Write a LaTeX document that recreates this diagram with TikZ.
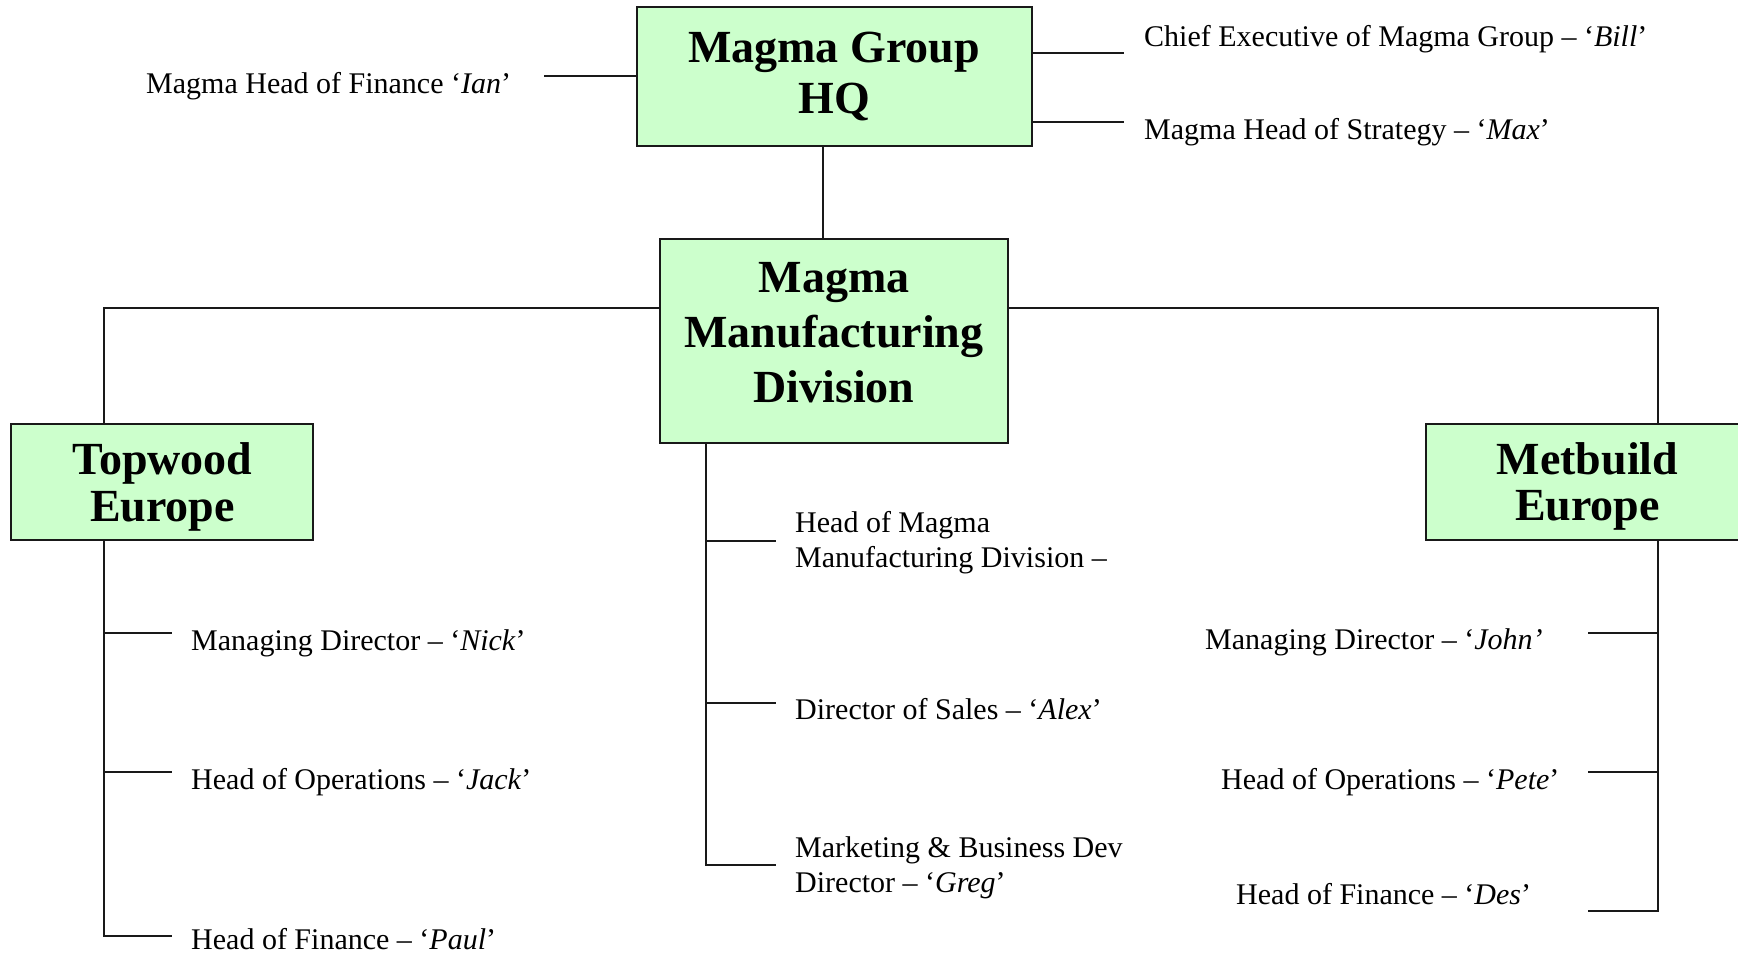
\documentclass[tikz,border=0pt]{standalone}
\usepackage{fontspec}
\setmainfont{Liberation Serif}
\definecolor{boxgreen}{HTML}{CCFFCC}
\tikzset{
  orgbox/.style={draw=black!90, line width=2pt, fill=boxgreen, inner sep=0pt, outer sep=0pt},
  boxtxt/.style={anchor=base, inner sep=0pt, font=\fontsize{46}{50}\selectfont\bfseries},
  lbl/.style={anchor=base west, inner sep=0pt, font=\fontsize{30}{35}\selectfont},
  conn/.style={line width=2pt, draw=black!90}
}
\newcommand{\ctrlines}[2]{\vtop{\baselineskip=#1\halign{\hfil##\hfil\cr#2\cr}}}
\newcommand{\twolines}[2]{\vtop{\baselineskip=35pt\hbox{#1}\hbox{#2}}}
\begin{document}
\begin{tikzpicture}[x=1pt,y=-1pt]
\fill[white] (0,0) rectangle (1738,954);
\useasboundingbox (0,0) rectangle (1738,954);

% boxes
\node[orgbox, minimum width=395pt, minimum height=139pt] (hq) at (834.5,76.5) {};
\node[orgbox, minimum width=348pt, minimum height=204pt] (mmd) at (834,341) {};
\node[orgbox, minimum width=302pt, minimum height=116pt] (tw) at (162,482) {};
\node[orgbox, minimum width=324pt, minimum height=116pt] (mb) at (1588,482) {};

% box texts
\node[boxtxt] (hqt) at (834,62) {\ctrlines{51pt}{Magma Group\cr HQ}};
\node[boxtxt] (mmdt) at (834,292) {\ctrlines{55pt}{Magma\cr Manufacturing\cr Division}};
\node[boxtxt] (twt) at (162.5,474) {\ctrlines{47pt}{Topwood\cr Europe}};
\node[boxtxt] (mbt) at (1587.5,474) {\ctrlines{46pt}{Metbuild\cr Europe}};

% coordinates for connector free ends and junctions
\coordinate (ianc) at (544,76);
\coordinate (billc) at (1124,53);
\coordinate (maxc) at (1124,122);
\coordinate (hqv) at (823,0);
\coordinate (twj) at (104,308);
\coordinate (mbj) at (1658,308);
\coordinate (mmv) at (706,0);
\coordinate (tA) at (172,633);
\coordinate (tB) at (172,772);
\coordinate (tC) at (172,936);
\coordinate (mA) at (776,541);
\coordinate (mB) at (776,703);
\coordinate (mC) at (776,865);
\coordinate (rA) at (1588,633);
\coordinate (rB) at (1588,772);
\coordinate (rC) at (1588,911);

% HQ connectors
\draw[conn] (ianc) -- (hq.west |- ianc);
\draw[conn] (hq.east |- billc) -- (billc);
\draw[conn] (hq.east |- maxc) -- (maxc);
\draw[conn] (hq.south -| hqv) -- (mmd.north -| hqv);

% division to companies
\draw[conn] (mmd.west |- twj) -| (tw.north -| twj);
\draw[conn] (mmd.east |- mbj) -| (mb.north -| mbj);

% Topwood spine
\draw[conn] (tw.south -| twj) |- (tC);
\draw[conn] (twj |- tA) -- (tA);
\draw[conn] (twj |- tB) -- (tB);

% MMD spine
\draw[conn] (mmd.south -| mmv) |- (mC);
\draw[conn] (mmv |- mA) -- (mA);
\draw[conn] (mmv |- mB) -- (mB);

% Metbuild spine
\draw[conn] (mb.south -| mbj) |- (rC);
\draw[conn] (mbj |- rA) -- (rA);
\draw[conn] (mbj |- rB) -- (rB);

% labels
\node[lbl] (ian) at (146,93) {Magma Head of Finance ‘\textit{Ian}’};
\node[lbl] (bill) at (1144,46) {Chief Executive of Magma Group – ‘\textit{Bill}’};
\node[lbl] (max) at (1144,139) {Magma Head of Strategy – ‘\textit{Max}’};

\node[lbl] (nick) at (191,650) {Managing Director – ‘\textit{Nick}’};
\node[lbl] (jack) at (191,789) {Head of Operations – ‘\textit{Jack}’};
\node[lbl] (paul) at (191,949) {Head of Finance – ‘\textit{Paul}’};

\node[lbl] (hmmd) at (795,532) {\twolines{Head of Magma}{Manufacturing Division –}};
\node[lbl] (alex) at (795,719) {Director of Sales – ‘\textit{Alex}’};
\node[lbl] (greg) at (795,857) {\twolines{Marketing \& Business Dev}{Director – ‘\textit{Greg}’}};

\node[lbl] (john) at (1205,649) {Managing Director – ‘\textit{John’}};
\node[lbl] (pete) at (1221,789) {Head of Operations – ‘\textit{Pete}’};
\node[lbl] (des) at (1236,904) {Head of Finance – ‘\textit{Des}’};
\end{tikzpicture}
\end{document}
